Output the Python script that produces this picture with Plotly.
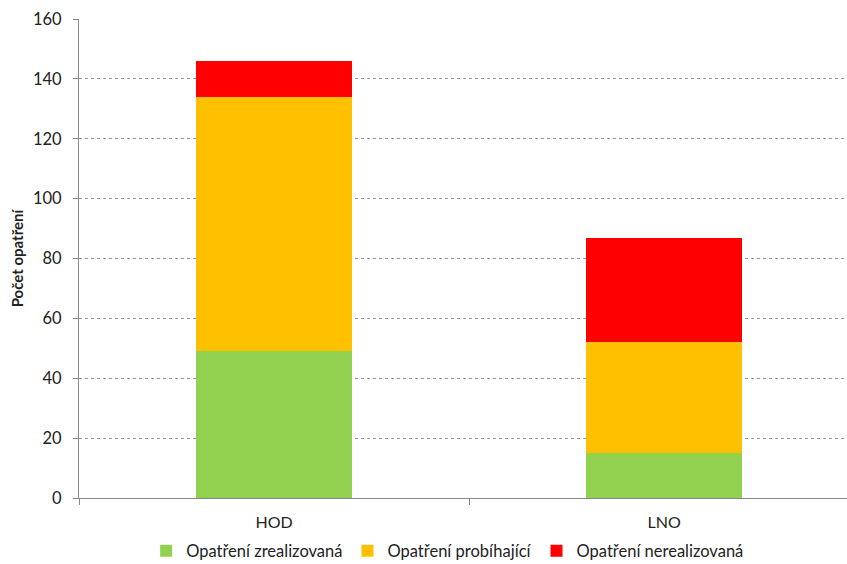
import plotly.graph_objects as go

categories = ["HOD", "LNO"]
series_names = ["Opatření zrealizovaná", "Opatření probíhající", "Opatření nerealizovaná"]
realized = [49, 15]
ongoing = [85, 37]
unrealized = [12, 35]
colors = ["#92D050", "#FFC000", "#FF0000"]
y_ticks = [0, 20, 40, 60, 80, 100, 120, 140, 160]

fig = go.Figure()
for name, vals, col in zip(series_names, [realized, ongoing, unrealized], colors):
    fig.add_trace(go.Bar(x=categories, y=vals, name=name, marker=dict(color=col, line=dict(width=0)),
                         width=0.4))

font = "Lato, 'Open Sans', sans-serif"
fig.update_layout(
    barmode="stack",
    width=847, height=564,
    margin=dict(l=79, r=0, t=19, b=66),
    plot_bgcolor="white", paper_bgcolor="white",
    font=dict(family=font, size=16, color="#222"),
    showlegend=True,
    legend=dict(orientation="h", x=0.48, xanchor="center", yref="container", y=0.023,
                yanchor="middle",
                font=dict(size=16.5), itemwidth=30, traceorder="normal", tracegroupgap=0,
                entrywidth=0),
    xaxis=dict(range=[-0.5, 1.469], showline=True, linecolor="#888", linewidth=1,
               ticks="outside", tickson="boundaries", ticklen=6, tickcolor="#888",
               showgrid=False, tickfont=dict(size=16), ticklabelstandoff=10, automargin=False),
    yaxis=dict(range=[0, 160], tickvals=y_ticks, showline=True, linecolor="#888", linewidth=1,
               ticks="outside", ticklen=5, tickcolor="#888",
               showgrid=True, gridcolor="#999", griddash="dot", gridwidth=1,
               zeroline=False, tickfont=dict(size=16.5), ticklabelstandoff=8, automargin=False,
               title=dict(text="<b>Počet opatření</b>", font=dict(size=15), standoff=5)),
)
fig.write_html("out.html")
